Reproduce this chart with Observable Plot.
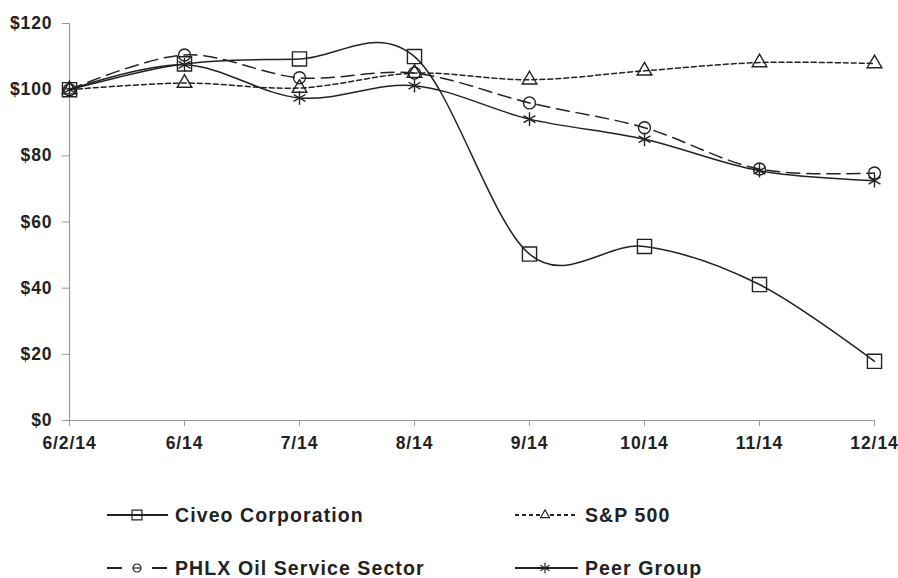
<!DOCTYPE html>
<html><head><meta charset="utf-8">
<script src="https://cdn.jsdelivr.net/npm/d3@7"></script>
<script src="https://cdn.jsdelivr.net/npm/@observablehq/plot@0.6"></script>
<style>
body{margin:0;background:#fff;}
#chart svg{display:block;}
</style></head><body><div id="chart"></div>
<script>
const dates = ["6/2/14","6/14","7/14","8/14","9/14","10/14","11/14","12/14"];
const seriesNames = ["Civeo Corporation","S&P 500","PHLX Oil Service Sector","Peer Group"];
const civeo = [100,107.8,109.3,110,50.3,52.6,41.1,17.9];
const sp500 = [100,102,100.5,105,103,105.7,108.2,107.9];
const phlx  = [100,110.5,103.6,105,96,88.5,76,74.8];
const peer  = [100,107.5,97.5,101.2,91.1,85,75.5,72.5];
const yTicks = [0,20,40,60,80,100,120];

const seriesValues = [civeo, sp500, phlx, peer];
const looks = [
  {dash:null, symbol:"square2", r:9, lr:6.3},
  {dash:"5,3", symbol:"triangle2", r:7, lr:4.2},
  {dash:"13,7", symbol:"circle", r:6, lr:4},
  {dash:null, symbol:"asterisk", r:6.5, lr:5}
];
const ink = "#222";
const font = "'Liberation Sans', Arial, Helvetica, sans-serif";

const marks = [
  Plot.ruleY([0], {stroke:"#999", strokeWidth:1.2}),
  Plot.ruleX([dates[0]], {y1:0, y2:120, stroke:"#999", strokeWidth:1.2}),
  Plot.axisX({tickSize:6, tickPadding:10, stroke:"#999", fill:ink, label:null}),
  Plot.axisY({ticks:yTicks, tickFormat:d=>"$"+d, tickSize:7, tickPadding:10, stroke:"#999", fill:ink, label:null})
];
seriesValues.forEach((vals, i) => {
  const rows = dates.map((d, j) => ({date:d, value:vals[j], series:seriesNames[i]}));
  const lk = looks[i];
  marks.push(Plot.line(rows, {x:"date", y:"value", curve:"cardinal", stroke:ink, strokeWidth:1.5,
    strokeDasharray: lk.dash || undefined}));
  marks.push(Plot.dot(rows, {x:"date", y:"value", symbol:lk.symbol, r:lk.r, stroke:ink, fill:"none", strokeWidth:1.4}));
});

const chart = Plot.plot({
  width:898, height:460,
  marginLeft:69, marginRight:24, marginTop:23, marginBottom:40,
  x:{type:"point", domain:dates, padding:0},
  y:{domain:[0,120]},
  style:{fontFamily:font, fontSize:"17.5px", fontWeight:"bold", color:ink, background:"#fff", letterSpacing:"0.9px"},
  marks
});
document.getElementById("chart").appendChild(chart);

// legend
const lg = d3.select("#chart").append("svg").attr("width",898).attr("height",118)
  .style("font-family", font).style("display","block");
const pos = [
  {x1:107, x2:168, mx:137, tx:175, y:55},
  {x1:515, x2:578, mx:545, tx:585, y:55},
  {x1:107, x2:167, mx:137, tx:175, y:108},
  {x1:515, x2:578, mx:545, tx:585, y:108}
];
const legendDash = [null, "4,3", "15,30", null];
seriesNames.forEach((name, i) => {
  const p = pos[i], lk = looks[i];
  lg.append("line").attr("x1",p.x1).attr("x2",p.x2).attr("y1",p.y).attr("y2",p.y)
    .attr("stroke",ink).attr("stroke-width",1.8).attr("stroke-dasharray", legendDash[i]);
  if (i === 2) {
    lg.append("line").attr("x1",p.mx-4).attr("x2",p.mx+4).attr("y1",p.y).attr("y2",p.y)
      .attr("stroke",ink).attr("stroke-width",1.2);
  }
  const sym = {square2:d3.symbolSquare2, triangle2:d3.symbolTriangle2, circle:d3.symbolCircle, asterisk:d3.symbolAsterisk}[lk.symbol];
  lg.append("path").attr("d", d3.symbol(sym, Math.PI*lk.lr*lk.lr)())
    .attr("transform",`translate(${p.mx},${p.y})`).attr("fill", i===1 ? "#fff" : "none").attr("stroke",ink).attr("stroke-width",1.2);
  lg.append("text").attr("x",p.tx).attr("y",p.y).attr("dy","0.35em")
    .attr("font-size",19.5).attr("font-weight","bold").attr("letter-spacing","1.1px").attr("fill",ink).text(name);
});
</script></body></html>
